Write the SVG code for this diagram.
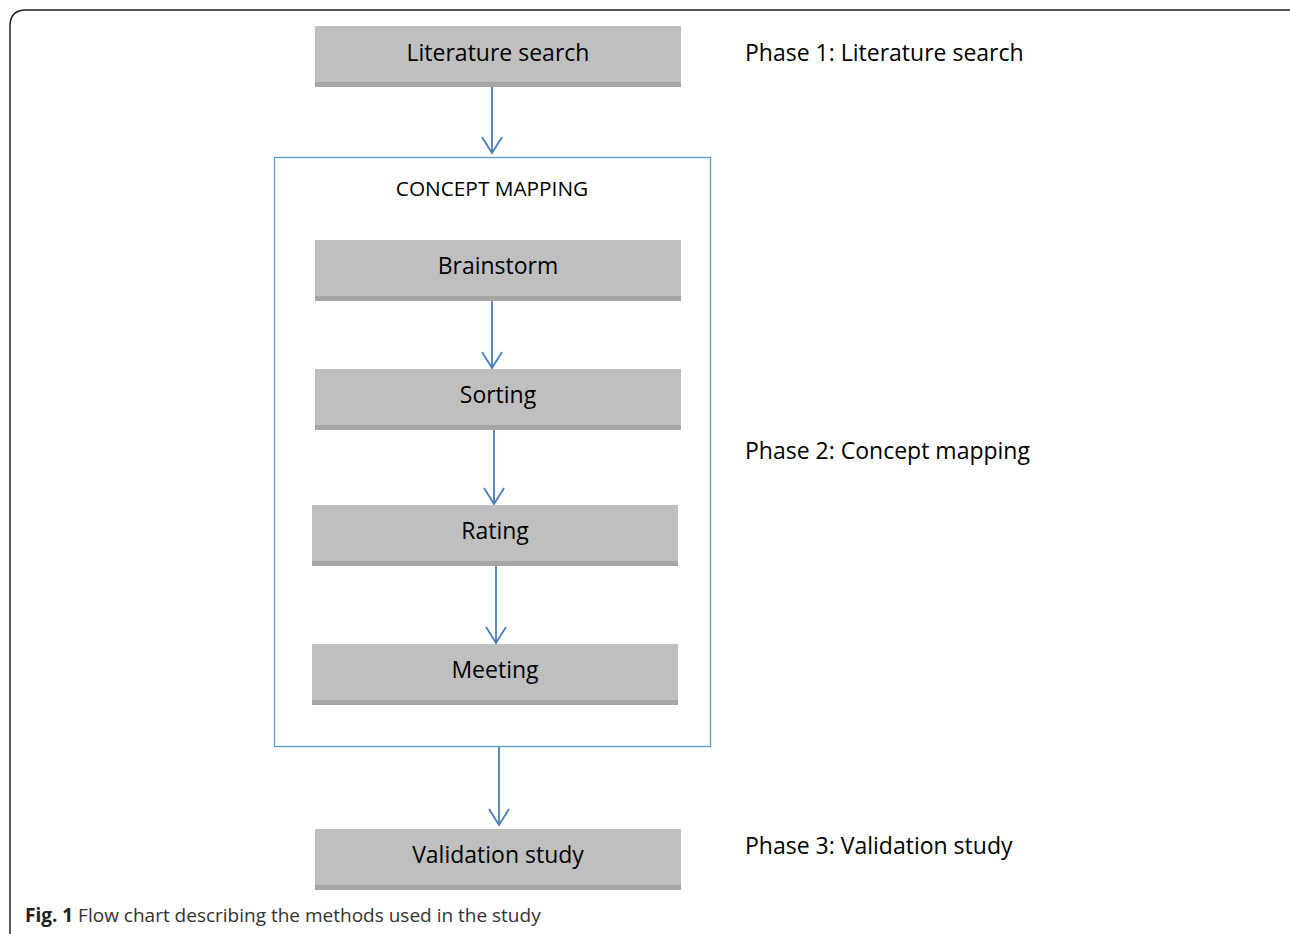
<svg xmlns="http://www.w3.org/2000/svg" width="1290" height="934" viewBox="0 0 1290 934">
<defs>
<style>
.box{fill:#bfbfbf}
.shade{fill:#a5a5a5}
.lbl{font-family:"Open Sans","Liberation Sans",sans-serif;font-size:23px;fill:#000;text-anchor:middle}
.phase{font-family:"Open Sans","Liberation Sans",sans-serif;font-size:23px;fill:#000}
.conn{stroke:#4a7ebb;stroke-width:1.8;fill:none}
</style>
<marker id="arr" markerWidth="22" markerHeight="24" refX="17" refY="11" orient="auto" markerUnits="userSpaceOnUse">
<path d="M1,1 L17,11 L1,21" fill="none" stroke="#4a7ebb" stroke-width="1.8"/>
</marker>
</defs>
<rect width="1290" height="934" fill="#fff"/>
<path d="M10,960 L10,26 Q10,10 26,10 L1300,10" fill="none" stroke="#222" stroke-width="1.5"/>
<g id="concept-mapping">
<rect x="274.5" y="157.5" width="436" height="589" fill="none" stroke="#5b9bd5" stroke-width="1.3"/>
<text x="492" y="196" style="font-family:'Open Sans','Liberation Sans',sans-serif;font-size:20.8px;text-anchor:middle">CONCEPT MAPPING</text>
</g>
<g id="literature-search">
<rect class="box" x="315" y="26" width="366" height="61"/>
<rect class="shade" x="315" y="82" width="366" height="5"/>
<text class="lbl" x="498" y="61">Literature search</text>
</g>
<g id="brainstorm">
<rect class="box" x="315" y="240" width="366" height="61"/>
<rect class="shade" x="315" y="296" width="366" height="5"/>
<text class="lbl" x="498" y="274">Brainstorm</text>
</g>
<g id="sorting">
<rect class="box" x="315" y="369" width="366" height="61"/>
<rect class="shade" x="315" y="425" width="366" height="5"/>
<text class="lbl" x="498" y="403">Sorting</text>
</g>
<g id="rating">
<rect class="box" x="312" y="505" width="366" height="61"/>
<rect class="shade" x="312" y="561" width="366" height="5"/>
<text class="lbl" x="495" y="539">Rating</text>
</g>
<g id="meeting">
<rect class="box" x="312" y="644" width="366" height="61"/>
<rect class="shade" x="312" y="700" width="366" height="5"/>
<text class="lbl" x="495" y="678">Meeting</text>
</g>
<g id="validation-study">
<rect class="box" x="315" y="829" width="366" height="61"/>
<rect class="shade" x="315" y="885" width="366" height="5"/>
<text class="lbl" x="498" y="863">Validation study</text>
</g>
<g id="phases">
<text class="phase" x="745" y="61">Phase 1: Literature search</text>
<text class="phase" x="745" y="459">Phase 2: Concept mapping</text>
<text class="phase" x="745" y="854">Phase 3: Validation study</text>
</g>
<g id="connectors">
<line class="conn" x1="492" y1="87" x2="492" y2="153" marker-end="url(#arr)"/>
<line class="conn" x1="492" y1="301" x2="492" y2="368" marker-end="url(#arr)"/>
<line class="conn" x1="494" y1="430" x2="494" y2="504" marker-end="url(#arr)"/>
<line class="conn" x1="496" y1="566" x2="496" y2="643" marker-end="url(#arr)"/>
<line class="conn" x1="499" y1="747" x2="499" y2="825" marker-end="url(#arr)"/>
</g>
<text x="25" y="922" style="font-family:'Open Sans','Liberation Sans',sans-serif;font-size:19px;fill:#333"><tspan font-weight="bold" fill="#222">Fig. 1</tspan> Flow chart describing the methods used in the study</text>
</svg>
